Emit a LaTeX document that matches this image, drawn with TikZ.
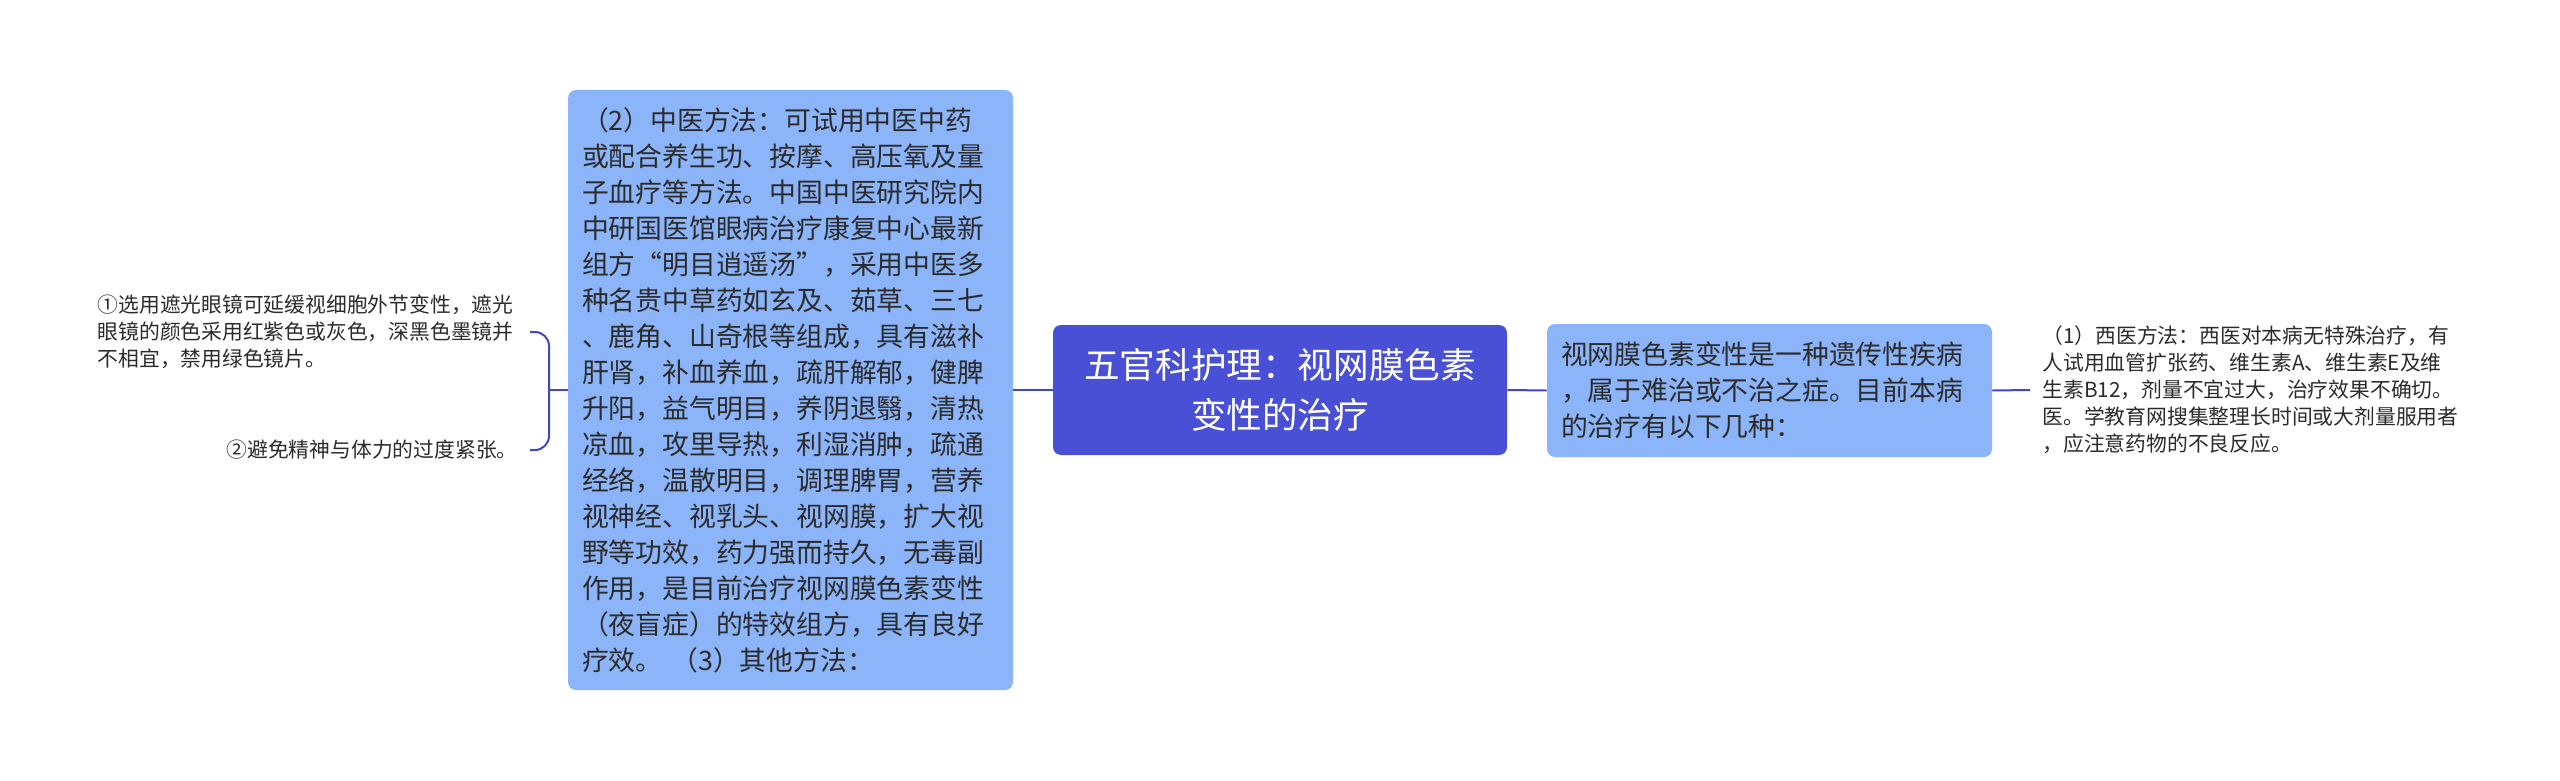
\documentclass[tikz,border=0pt]{standalone}
\usepackage{fontspec}
\setmainfont{Noto Sans CJK SC}
\usetikzlibrary{positioning}
\definecolor{rootblue}{HTML}{4A50D6}
\definecolor{boxblue}{HTML}{8CB4F8}
\definecolor{linkblue}{HTML}{3F47C9}
\definecolor{inkgray}{HTML}{2B2B2B}

\begin{document}
\begin{tikzpicture}[x=0.5pt, y=-0.5pt,
  topic/.style={fill=rootblue, text=white, rounded corners=4pt, align=center,
    minimum width=227pt, minimum height=65pt, font=\fontsize{17.8}{25}\selectfont},
  branch/.style={fill=boxblue, text=inkgray, rounded corners=4pt, align=left,
    text width=208.5pt, inner xsep=7pt, font=\fontsize{13.4}{18}\selectfont},
  tip/.style={text=inkgray, align=left, text width=210pt, inner xsep=6pt,
    font=\fontsize{10.4}{13.5}\selectfont},
  link/.style={draw=linkblue, line width=1pt}]
  \useasboundingbox (0,0) rectangle (2560,781);

  % centre and the two branches
  \node[topic] (root) at (1280,390) {五官科护理：视网膜色素\\变性的治疗};
  \node[branch, minimum height=66.5pt] (rbox) at (1769.5,390.5)
    {视网膜色素变性是一种遗传性疾病\\，属于难治或不治之症。目前本病\\的治疗有以下几种：};
  \node[branch, minimum height=300pt] (lbox) at (790.5,390)
    {（2）中医方法：可试用中医中药\\或配合养生功、按摩、高压氧及量\\子血疗等方法。中国中医研究院内\\中研国医馆眼病治疗康复中心最新\\组方“明目逍遥汤”，采用中医多\\种名贵中草药如玄及、茹草、三七\\、鹿角、山奇根等组成，具有滋补\\肝肾，补血养血，疏肝解郁，健脾\\升阳，益气明目，养阴退翳，清热\\凉血，攻里导热，利湿消肿，疏通\\经络，温散明目，调理脾胃，营养\\视神经、视乳头、视网膜，扩大视\\野等功效，药力强而持久，无毒副\\作用，是目前治疗视网膜色素变性\\（夜盲症）的特效组方，具有良好\\疗效。 （3）其他方法：};

  % leaves
  \node[tip, anchor=west] (rtip) at (2030,390)
    {（1）西医方法：西医对本病无特殊治疗，有\\人试用血管扩张药、维生素A、维生素E及维\\生素B12，剂量不宜过大，治疗效果不确切。\\医。学教育网搜集整理长时间或大剂量服用者\\，应注意药物的不良反应。};
  \node[tip, anchor=east] (tip1) at (530,332)
    {①选用遮光眼镜可延缓视细胞外节变性，遮光\\眼镜的颜色采用红紫色或灰色，深黑色墨镜并\\不相宜，禁用绿色镜片。};
  \node[tip, anchor=east, text width=, align=right] (tip2) at (530,450)
    {②避免精神与体力的过度紧张。};

  % connectors
  \draw[link] (lbox.east) -- (root.west);
  \draw[link] (root.east) -- (rbox.west);
  \draw[link] (rbox.east) -- (rtip.west);
  \coordinate (fork) at (549,390);
  \draw[link] (lbox.west) -- (fork);
  \draw[link, rounded corners=7pt] (tip1.east) -| (fork) |- (tip2.east);
\end{tikzpicture}
\end{document}
